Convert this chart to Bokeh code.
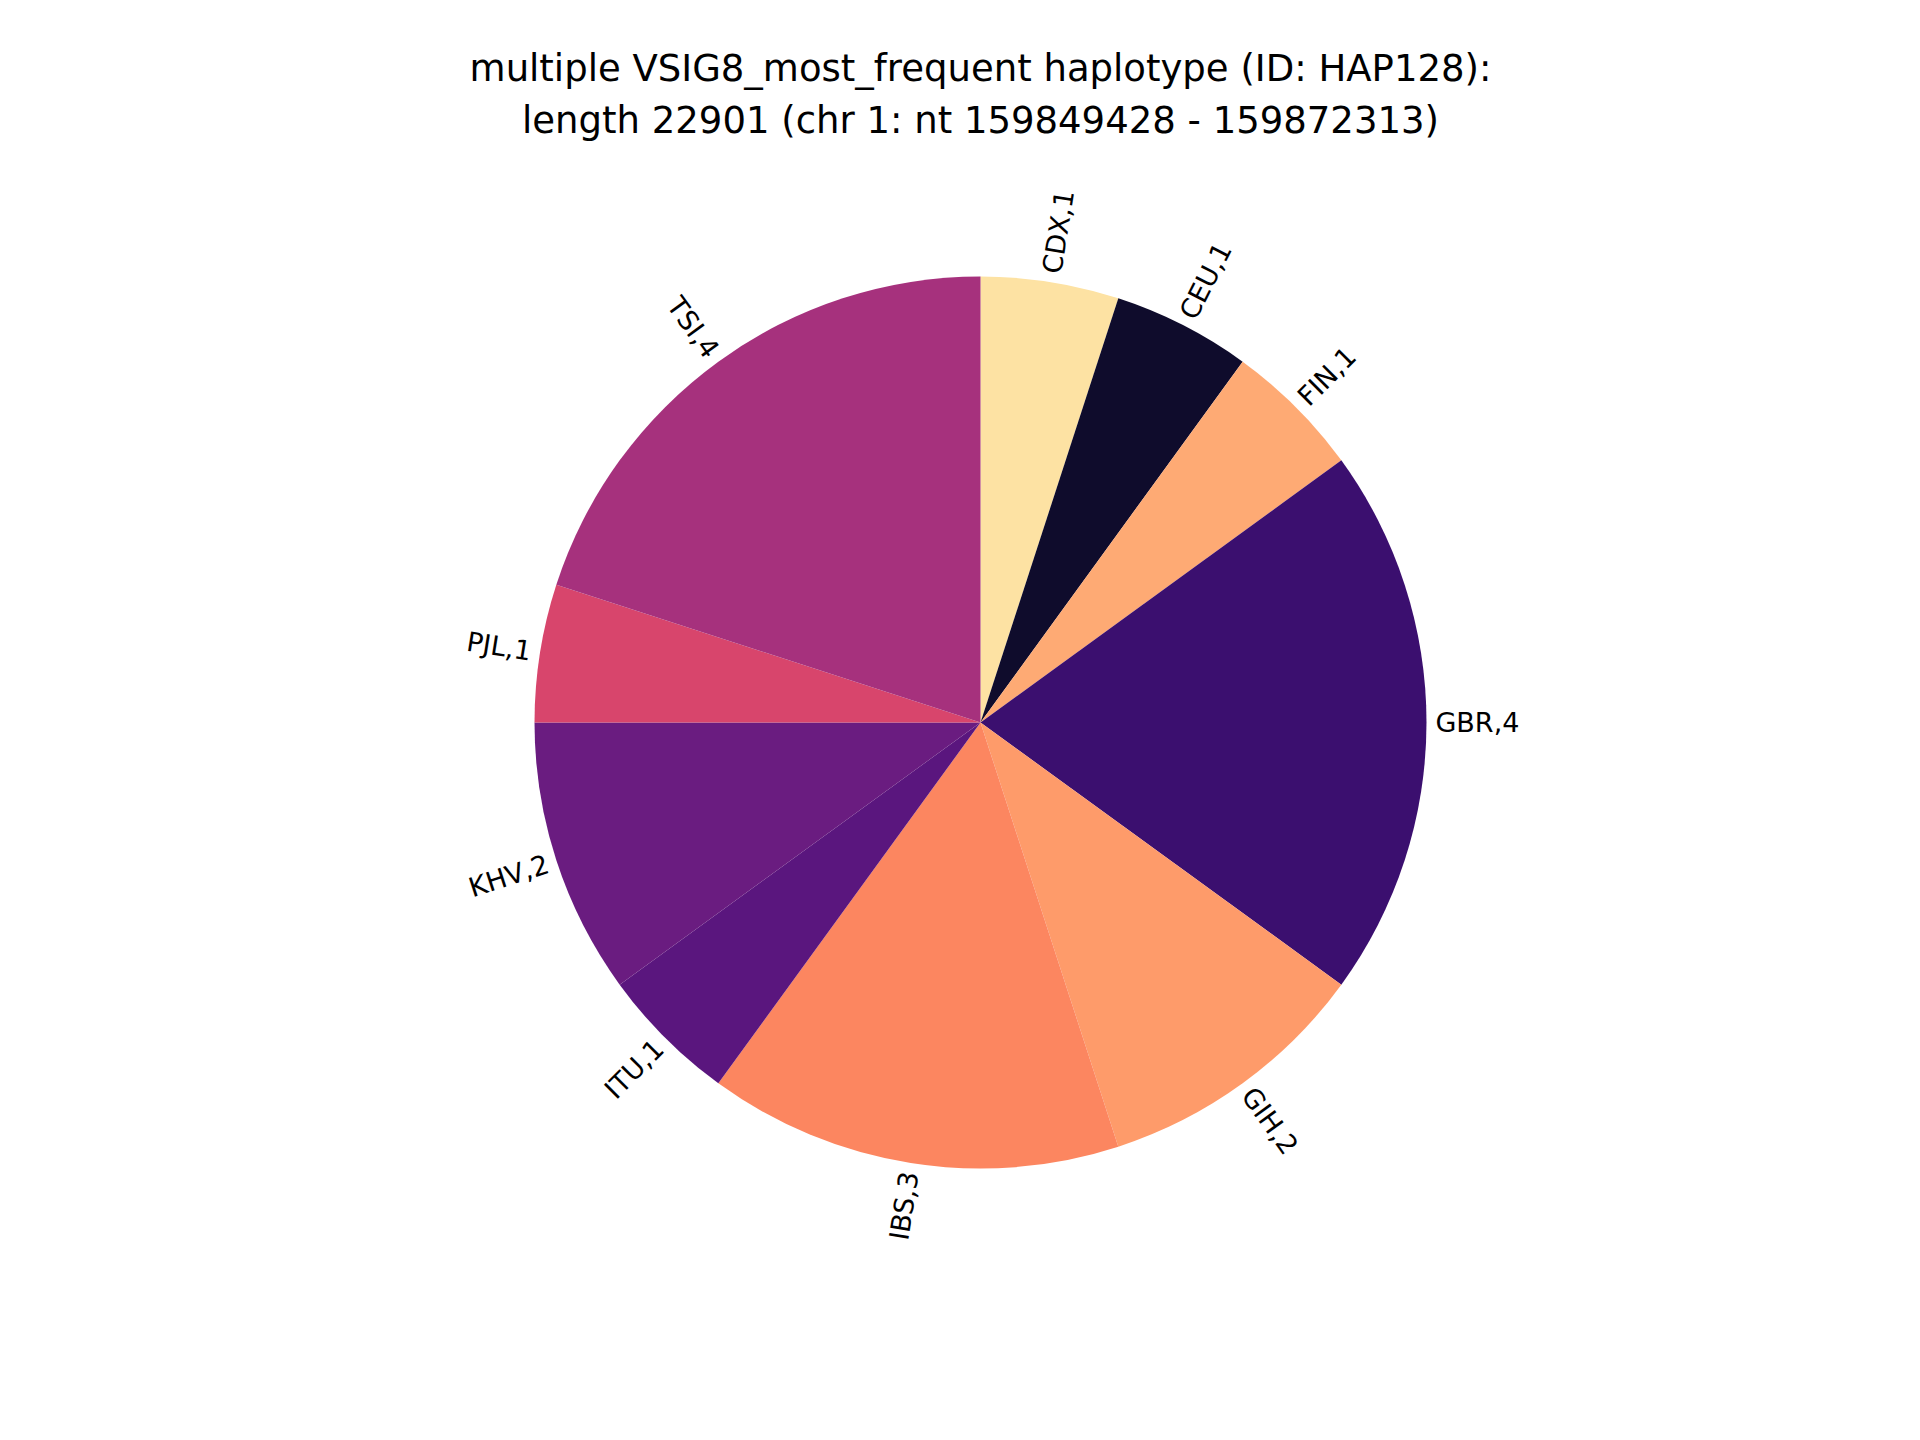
import numpy as np
from bokeh.plotting import figure
from bokeh.models import Range1d, ColumnDataSource
from bokeh.core.properties import value
from bokeh.embed import file_html
from bokeh.resources import INLINE

labels = ["CDX", "CEU", "FIN", "GBR", "GIH", "IBS", "ITU", "KHV", "PJL", "TSI"]
counts = [1, 1, 1, 4, 2, 3, 1, 2, 1, 4]
colors = ["#fde2a3", "#0f0c2c", "#feaa74", "#3b0f6f", "#fe9b6a", "#fc8660",
          "#5a167e", "#6a1c80", "#d8456c", "#a6317d"]
title_lines = ["multiple VSIG8_most_frequent haplotype (ID: HAP128):",
               "length 22901 (chr 1: nt 159849428 - 159872313)"]

W, H = 1904, 1424
cx, cy, R = 980, 1424 - 722, 446

p = figure(width=W, height=H, output_backend="svg", toolbar_location=None,
           x_range=Range1d(0, W), y_range=Range1d(0, H), min_border=0)
p.axis.visible = False
p.grid.visible = False
p.outline_line_color = None

total = sum(counts)
fr = np.array(counts) / total
cum = np.concatenate([[0], np.cumsum(fr)])
start = 90 - cum[:-1] * 360
end = 90 - cum[1:] * 360
src = ColumnDataSource(dict(s=np.deg2rad(start), e=np.deg2rad(end), c=colors))
p.wedge(x=cx, y=cy, radius=R, start_angle="s", end_angle="e", direction="clock",
        fill_color="c", line_color=None, source=src)

mid = (start + end) / 2
rad = np.deg2rad(mid)
lx = cx + 1.02 * R * np.cos(rad)
ly = cy + 1.02 * R * np.sin(rad)
txt = [f"{l},{c}" for l, c in zip(labels, counts)]
ang, al = [], []
for m in mid:
    a = m % 360
    if 90 < a < 270:
        ang.append(np.deg2rad(a - 180)); al.append("right")
    else:
        ang.append(np.deg2rad(a if a <= 90 else a - 360)); al.append("left")
lsrc = ColumnDataSource(dict(x=lx, y=ly, t=txt, a=ang, al=al))
p.text(x="x", y="y", text="t", angle="a", text_align="al",
       text_baseline="middle", text_font_size="27px", text_font=value("DejaVu Sans"),
       text_color="black", source=lsrc)

p.text(x=[cx, cx], y=[H - 76 + 8, H - 128 + 8], text=title_lines, text_align="center",
       text_baseline="middle", text_font_size="37px", text_font=value("DejaVu Sans"),
       text_color="black")

open("out.html", "w").write(file_html(p, INLINE))
